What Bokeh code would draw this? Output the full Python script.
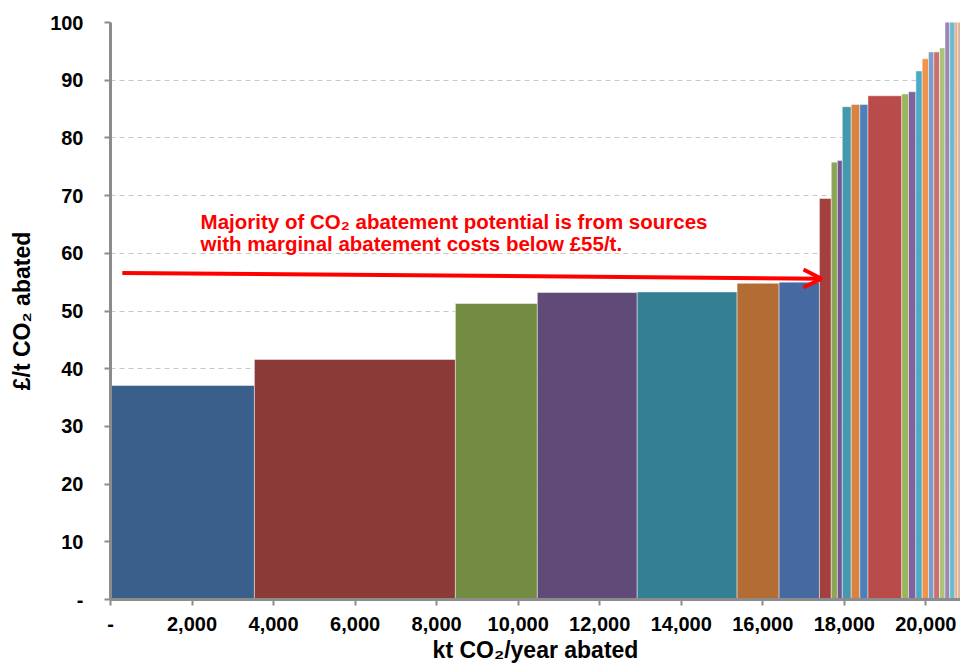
import numpy as np
from bokeh.plotting import figure
from bokeh.models import (ColumnDataSource, FixedTicker, NumeralTickFormatter, Range1d,
                          Arrow, OpenHead, Label)
from bokeh.embed import file_html
from bokeh.resources import INLINE

# ---- data ----
widths_kt = [3530, 4930, 2010, 2450, 2450, 1030, 990, 290, 150, 120, 220, 210, 200,
             830, 165, 180, 155, 155, 130, 140, 135, 115, 130, 65, 80]
costs = [37.1, 41.6, 51.3, 53.2, 53.3, 54.8, 55.0, 69.5, 75.8, 76.1, 85.4, 85.8, 85.8,
         87.3, 87.6, 88.0, 91.6, 93.7, 94.9, 94.9, 95.6, 104, 108, 112, 118]
colors = ["#3A5F8B", "#8B3A38", "#748B42", "#5F4A78", "#357F92", "#B36C33", "#4569A0",
          "#A3403E", "#8BA553", "#715990", "#4499B0", "#D8833F", "#4D7FBB", "#B94C4A",
          "#99B75A", "#7F63A0", "#4BAAC4", "#F0944C", "#7C9CCC", "#CC706E", "#ABC47A",
          "#9B86B8", "#6DB9CF", "#F6A96C", "#D8B4A6"]
x_ticks = [0, 2000, 4000, 6000, 8000, 10000, 12000, 14000, 16000, 18000, 20000]
y_ticks = [0, 10, 20, 30, 40, 50, 60, 70, 80, 90, 100]

annotation_lines = ["Majority of CO\u2082 abatement potential is from sources",
                    "with marginal abatement costs below \u00a355/t."]
annotation_x = 2210
annotation_y = [65.5, 61.7]
arrow_start = (290, 56.6)
arrow_end = (17440, 55.6)

# ---- build ----
right = np.cumsum(widths_kt)
left = right - np.array(widths_kt)
src = ColumnDataSource(dict(left=left, right=right, top=costs,
                            bottom=[0] * len(costs), color=colors))

FONT = "Liberation Sans"

p = figure(width=960, height=665, output_backend="svg", toolbar_location=None,
           x_range=Range1d(0, 20850), y_range=Range1d(0, 100),
           min_border_left=110, min_border_right=0, min_border_top=22,
           min_border_bottom=64)
p.outline_line_color = None
p.background_fill_color = "white"

p.quad(left="left", right="right", top="top", bottom="bottom", fill_color="color",
       line_color="white", line_alpha=0.45, line_width=1, source=src)

# grid
p.xgrid.grid_line_color = None
p.ygrid.grid_line_color = "#C8C8C8"
p.ygrid.grid_line_dash = "5 4"
p.ygrid.grid_line_width = 1
p.ygrid.ticker = FixedTicker(ticks=y_ticks)

# axes
for ax in (p.xaxis[0], p.yaxis[0]):
    ax.axis_line_color = "#8C8C8C"
    ax.axis_line_width = 3
    ax.major_tick_line_color = "#8C8C8C"
    ax.major_tick_line_width = 2
    ax.major_tick_in = 0
    ax.major_tick_out = 6
    ax.minor_tick_line_color = None
    ax.major_label_text_font = FONT
    ax.major_label_text_font_style = "bold"
    ax.major_label_text_font_size = "20px"
    ax.major_label_text_color = "black"
    ax.axis_label_text_font = FONT
    ax.axis_label_text_font_style = "bold"
    ax.axis_label_text_font_size = "23px"
    ax.axis_label_text_color = "black"

p.yaxis.ticker = FixedTicker(ticks=y_ticks)
p.yaxis.major_label_overrides = {0: "-"}
p.yaxis.major_label_standoff = 21
p.yaxis.axis_label = "\u00a3/t CO\u2082 abated"
p.yaxis.axis_label_standoff = 12

p.xaxis.ticker = FixedTicker(ticks=x_ticks)
p.xaxis.formatter = NumeralTickFormatter(format="0,0")
p.xaxis.major_label_overrides = {0: "-"}
p.xaxis.major_label_standoff = 11
p.xaxis.axis_label = "kt CO\u2082/year abated"
p.xaxis.axis_label_standoff = 3

# annotation arrow and text
p.add_layout(Arrow(end=OpenHead(size=18, line_color="#FF0000", line_width=4),
                   x_start=arrow_start[0], y_start=arrow_start[1],
                   x_end=arrow_end[0], y_end=arrow_end[1],
                   line_color="#FF0000", line_width=4))
for txt, yy in zip(annotation_lines, annotation_y):
    p.add_layout(Label(x=annotation_x, y=yy, text=txt, text_color="#FF0000",
                       text_font=FONT, text_font_style="bold", text_font_size="20.5px",
                       text_baseline="alphabetic", text_align="left"))

open("out.html", "w").write(file_html(p, INLINE))
